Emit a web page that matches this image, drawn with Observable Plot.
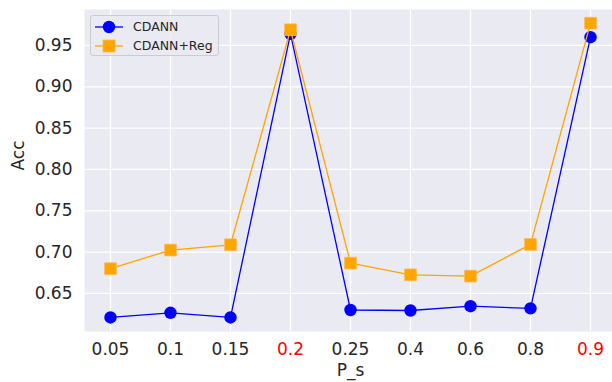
<!DOCTYPE html>
<html>
<head>
<meta charset="utf-8">
<script src="https://cdn.jsdelivr.net/npm/d3@7"></script>
<script src="https://cdn.jsdelivr.net/npm/@observablehq/plot@0.6"></script>
<style>
  html, body { margin: 0; padding: 0; background: #fff; overflow: hidden; }
  #wrap { position: relative; width: 612px; height: 382px; overflow: hidden; font-family: "DejaVu Sans", sans-serif; }
  #wrap svg { overflow: hidden; }
  #legend { position: absolute; left: 90px; top: 15px; width: 129px; height: 41px; box-sizing: border-box;
    border: 1px solid #cccccc; border-radius: 3px; background: rgba(234,234,242,0.8); font-size: 12.5px; color: #262626; }
  .row { position: absolute; left: 4px; height: 18px; display: flex; align-items: center; }
  .row span { margin-left: 10px; }
</style>
</head>
<body>
<div id="wrap"></div>
<script>
const cats = ["0.05", "0.1", "0.15", "0.2", "0.25", "0.4", "0.6", "0.8", "0.9"];
const cdann = [0.621, 0.6266, 0.621, 0.964, 0.630, 0.6294, 0.6346, 0.632, 0.960];
const cdannReg = [0.680, 0.7025, 0.7089, 0.969, 0.6867, 0.6726, 0.6710, 0.7093, 0.977];
const redTicks = ["0.2", "0.9"];
const yTicks = [0.65, 0.70, 0.75, 0.80, 0.85, 0.90, 0.95];
const seriesNames = ["CDANN", "CDANN+Reg"];
const colors = ["#0000ff", "#ffa500"];

const rowsA = cats.map((c, i) => ({x: c, y: cdann[i]}));
const rowsB = cats.map((c, i) => ({x: c, y: cdannReg[i]}));
const textColor = "#262626";

const chart = Plot.plot({
  width: 612,
  height: 382,
  marginLeft: 84,
  marginRight: -4,
  marginTop: 9,
  marginBottom: 51,
  style: {fontFamily: "DejaVu Sans, sans-serif", background: "white"},
  x: {type: "point", domain: cats, padding: 0.4},
  y: {domain: [0.604, 0.9935]},
  marks: [
    Plot.frame({fill: "#eaeaf2", stroke: null}),
    Plot.gridX({stroke: "white", strokeOpacity: 1, strokeWidth: 1.3}),
    Plot.gridY({ticks: yTicks, stroke: "white", strokeOpacity: 1, strokeWidth: 1.3}),
    Plot.axisX({ticks: cats.filter(c => !redTicks.includes(c)), tickSize: 0, tickPadding: 11, fontSize: 17, color: textColor, label: null}),
    Plot.axisX({ticks: redTicks, tickSize: 0, tickPadding: 11, fontSize: 17, color: "red", label: null}),
    Plot.axisY({ticks: yTicks, tickFormat: d => d.toFixed(2), tickSize: 0, tickPadding: 12, fontSize: 17, color: textColor, label: null}),
    Plot.text(["Acc"], {frameAnchor: "left", rotate: -90, dx: -66, fontSize: 17, fill: textColor, text: d => d}),
    Plot.text(["P_s"], {frameAnchor: "bottom", dy: 44, fontSize: 17, fill: textColor, text: d => d}),
    Plot.line(rowsA, {x: "x", y: "y", stroke: colors[0], strokeWidth: 1.3}),
    Plot.dot(rowsA, {x: "x", y: "y", r: 6.2, fill: colors[0], stroke: null}),
    Plot.line(rowsB, {x: "x", y: "y", stroke: colors[1], strokeWidth: 1.3}),
    Plot.dot(rowsB, {x: "x", y: "y", r: 6.6, symbol: "square", fill: colors[1], stroke: "#ffb84d", strokeWidth: 0.8})
  ]
});
const wrap = document.getElementById("wrap");
wrap.appendChild(chart);

const legend = document.createElement("div");
legend.id = "legend";
seriesNames.forEach((name, i) => {
  const row = document.createElement("div");
  row.className = "row";
  row.style.top = (i === 0 ? 1.5 : 20.5) + "px";
  const marker = i === 0
    ? `<circle cx="14" cy="9" r="6.2" fill="${colors[i]}"/>`
    : `<rect x="8" y="3" width="12" height="12" fill="${colors[i]}" stroke="#ffb84d" stroke-width="0.8"/>`;
  row.innerHTML = `<svg width="28" height="18"><line x1="0" x2="28" y1="9" y2="9" stroke="${colors[i]}" stroke-width="1.3"/>${marker}</svg><span>${name}</span>`;
  legend.appendChild(row);
});
wrap.appendChild(legend);
</script>
</body>
</html>
